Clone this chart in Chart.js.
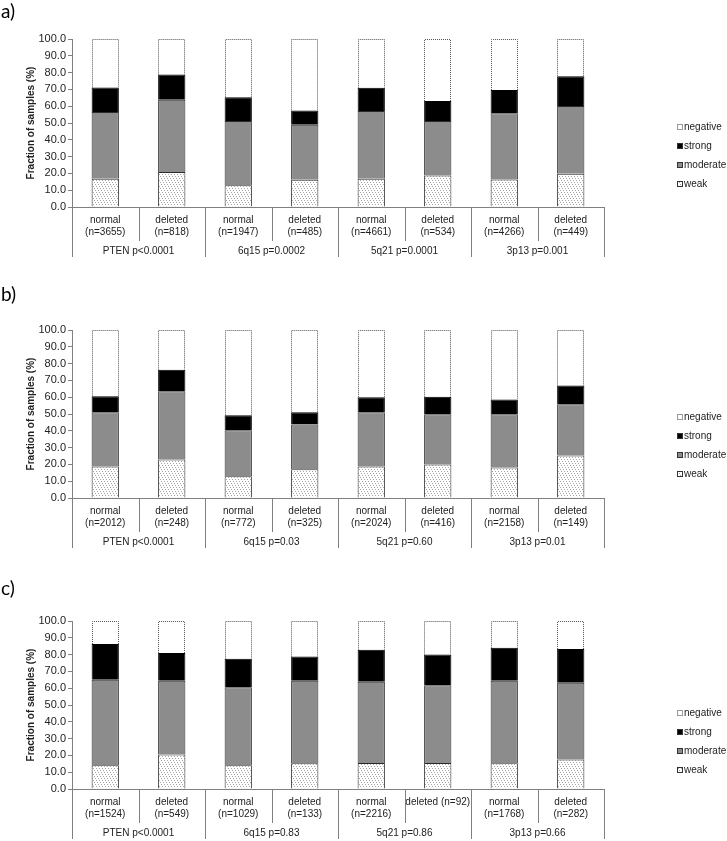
<!DOCTYPE html>
<html>
<head>
<meta charset="utf-8">
<script src="https://cdn.jsdelivr.net/npm/chart.js@4.4.1/dist/chart.umd.min.js"></script>
<style>
  html, body { margin: 0; padding: 0; background: #fff; width: 727px; height: 841px; overflow: hidden; }
  canvas { position: absolute; left: 0; }
  .tag { position: absolute; left: 1px; font: 19px/19px Lato, "Open Sans", sans-serif; color: #000; z-index: 2; }
</style>
</head>
<body>
<canvas id="pa" width="727" height="291" style="top:0px"></canvas>
<canvas id="pb" width="727" height="291" style="top:291px"></canvas>
<canvas id="pc" width="727" height="291" style="top:582px"></canvas>
<div class="tag" style="top:1px">a)</div>
<div class="tag" style="top:284px">b)</div>
<div class="tag" style="top:578px">c)</div>
<script>
// categories
const aLabels = [['normal', '(n=3655)'], ['deleted', '(n=818)'], ['normal', '(n=1947)'], ['deleted', '(n=485)'],
  ['normal', '(n=4661)'], ['deleted', '(n=534)'], ['normal', '(n=4266)'], ['deleted', '(n=449)']];
const bLabels = [['normal', '(n=2012)'], ['deleted', '(n=248)'], ['normal', '(n=772)'], ['deleted', '(n=325)'],
  ['normal', '(n=2024)'], ['deleted', '(n=416)'], ['normal', '(n=2158)'], ['deleted', '(n=149)']];
const cLabels = [['normal', '(n=1524)'], ['deleted', '(n=549)'], ['normal', '(n=1029)'], ['deleted', '(n=133)'],
  ['normal', '(n=2216)'], 'deleted (n=92)', ['normal', '(n=1768)'], ['deleted', '(n=282)']];

const aGroups = ['PTEN p<0.0001', '6q15 p=0.0002', '5q21 p=0.0001', '3p13 p=0.001'];
const bGroups = ['PTEN p<0.0001', '6q15 p=0.03', '5q21 p=0.60', '3p13 p=0.01'];
const cGroups = ['PTEN p<0.0001', '6q15 p=0.83', '5q21 p=0.86', '3p13 p=0.66'];

// series (%), stacked bottom to top
const aWeak     = [16.8, 20.9, 12.9, 16.2, 16.8, 18.7, 16.3, 19.8];
const aModerate = [39.7, 43.0, 38.3, 32.8, 40.3, 32.5, 39.5, 40.3];
const aStrong   = [14.7, 14.9, 14.1, 8.5, 13.9, 11.9, 13.8, 17.7];
const aNegative = [28.8, 21.2, 34.7, 42.5, 29.0, 36.9, 30.4, 22.2];

const bWeak     = [18.8, 22.9, 12.9, 17.1, 18.8, 20.0, 18.2, 25.3];
const bModerate = [32.2, 40.6, 27.4, 26.7, 32.2, 29.8, 31.6, 30.5];
const bStrong   = [9.5, 12.9, 8.9, 7.2, 9.0, 10.5, 8.9, 11.1];
const bNegative = [39.5, 23.6, 50.8, 49.0, 40.0, 39.7, 41.3, 33.1];

const cWeak     = [14.2, 20.6, 14.2, 15.3, 15.5, 15.5, 15.3, 17.5];
const cModerate = [50.9, 43.9, 46.3, 49.2, 48.4, 46.2, 49.2, 45.8];
const cStrong   = [21.2, 16.5, 17.1, 14.3, 19.0, 18.3, 19.6, 20.0];
const cNegative = [13.7, 19.0, 22.4, 21.2, 17.1, 20.0, 15.9, 16.7];

const yTicks = [0, 10, 20, 30, 40, 50, 60, 70, 80, 90, 100];

const FONT = '"Liberation Sans", Arial, sans-serif';
const INK = '#222';
const LINE = '#808080';

// stipple fill for "weak"
function dots () {
  const c = document.createElement('canvas');
  c.width = 6; c.height = 6;
  const g = c.getContext('2d');
  g.fillStyle = '#fff';
  g.fillRect(0, 0, 6, 6);
  g.fillStyle = '#a4a4a4';
  [[0, 0], [3, 0], [1, 2], [4, 2], [2, 4], [5, 4]].forEach(p => g.fillRect(p[0], p[1], 1, 1));
  return g.createPattern(c, 'repeat');
}
const weakFill = dots();

// table under the axis, dotted outline of "negative", legend
const tablePlugin = {
  id: 'table',
  afterDatasetsDraw (chart) {
    const ctx = chart.ctx;
    const meta = chart.getDatasetMeta(3);
    ctx.save();
    ctx.setLineDash([1, 1]);
    ctx.strokeStyle = '#555';
    ctx.lineWidth = 1;
    meta.data.forEach(bar => {
      const { x, y, base, width } = bar.getProps(['x', 'y', 'base', 'width'], true);
      const l = Math.round(x - width / 2) + 0.5;
      const r = Math.round(x + width / 2) - 0.5;
      const t = Math.round(y) + 0.5;
      ctx.beginPath();
      ctx.moveTo(l, base);
      ctx.lineTo(l, t);
      ctx.lineTo(r, t);
      ctx.lineTo(r, base);
      ctx.stroke();
    });
    ctx.restore();
  },
  afterDraw (chart, args, opts) {
    const ctx = chart.ctx;
    const xs = chart.scales.x;
    const area = chart.chartArea;
    const n = chart.data.labels.length;
    const half = (xs.getPixelForValue(1) - xs.getPixelForValue(0)) / 2;
    ctx.save();
    // dividers
    ctx.strokeStyle = LINE;
    ctx.lineWidth = 1;
    for (let i = 0; i <= n; i++) {
      const px = i < n ? xs.getPixelForValue(i) - half : xs.getPixelForValue(n - 1) + half;
      const len = i % 2 === 0 ? 50 : 34;
      ctx.beginPath();
      ctx.moveTo(Math.round(px) + 0.5, area.bottom);
      ctx.lineTo(Math.round(px) + 0.5, area.bottom + len);
      ctx.stroke();
    }
    // group labels
    ctx.font = '10px ' + FONT;
    ctx.fillStyle = INK;
    ctx.textAlign = 'center';
    ctx.textBaseline = 'middle';
    opts.groups.forEach((g, j) => {
      const cx = (xs.getPixelForValue(2 * j) + xs.getPixelForValue(2 * j + 1)) / 2;
      ctx.fillText(g, cx, area.bottom + 44);
    });
    // legend (top entry = last dataset)
    ctx.font = '10px ' + FONT;
    ctx.textAlign = 'left';
    const sets = chart.data.datasets.slice().reverse();
    sets.forEach((ds, k) => {
      const cy = area.top + opts.legendTop + k * 19;
      const bx = 677.5, by = Math.round(cy - 3) + 0.5;
      ctx.fillStyle = ds.backgroundColor;
      ctx.fillRect(bx, by, 5, 5);
      ctx.strokeStyle = '#333';
      ctx.setLineDash(ds.label === 'negative' ? [1, 1] : []);
      ctx.strokeRect(bx, by, 5, 5);
      ctx.setLineDash([]);
      ctx.fillStyle = INK;
      ctx.fillText(ds.label, 684, cy);
    });
    ctx.restore();
  }
};

function makeChart (id, labels, groups, weak, moderate, strong, negative, legendTop) {
  return new Chart(document.getElementById(id), {
    type: 'bar',
    data: {
      labels,
      datasets: [
        { label: 'weak', data: weak, backgroundColor: weakFill, borderColor: '#2a2a2a', borderWidth: 1 },
        { label: 'moderate', data: moderate, backgroundColor: '#8c8c8c', borderColor: '#2a2a2a', borderWidth: 1 },
        { label: 'strong', data: strong, backgroundColor: '#000', borderColor: '#000', borderWidth: 1 },
        { label: 'negative', data: negative, backgroundColor: '#fff', borderWidth: 0 }
      ]
    },
    options: {
      responsive: false,
      animation: false,
      devicePixelRatio: 1,
      barPercentage: 0.41,
      categoryPercentage: 1,
      layout: { padding: { top: 39, right: 123, left: 0, bottom: 0 } },
      plugins: {
        legend: { display: false },
        tooltip: { enabled: false },
        table: { groups, legendTop }
      },
      scales: {
        x: {
          stacked: true,
          offset: true,
          afterFit (s) { s.height = 84; },
          grid: { display: false, drawTicks: false },
          border: { color: LINE, width: 1 },
          ticks: { color: INK, font: { family: FONT, size: 10 }, padding: 7, maxRotation: 0, autoSkip: false }
        },
        y: {
          stacked: true,
          min: 0,
          max: 100,
          afterFit (s) { s.width = 72; },
          afterBuildTicks (s) { s.ticks = yTicks.map(v => ({ value: v })); },
          grid: { drawOnChartArea: false, drawTicks: true, tickLength: 4, color: LINE },
          border: { color: LINE, width: 1 },
          ticks: { color: INK, font: { family: FONT, size: 11 }, padding: 2, callback: v => Number(v).toFixed(1) },
          title: { display: true, text: 'Fraction of samples (%)', color: INK,
            font: { family: FONT, size: 10, weight: 'bold' }, padding: { top: 25, bottom: 0 } }
        }
      }
    },
    plugins: [tablePlugin]
  });
}

makeChart('pa', aLabels, aGroups, aWeak, aModerate, aStrong, aNegative, 88);
makeChart('pb', bLabels, bGroups, bWeak, bModerate, bStrong, bNegative, 87);
makeChart('pc', cLabels, cGroups, cWeak, cModerate, cStrong, cNegative, 92);
</script>
</body>
</html>
